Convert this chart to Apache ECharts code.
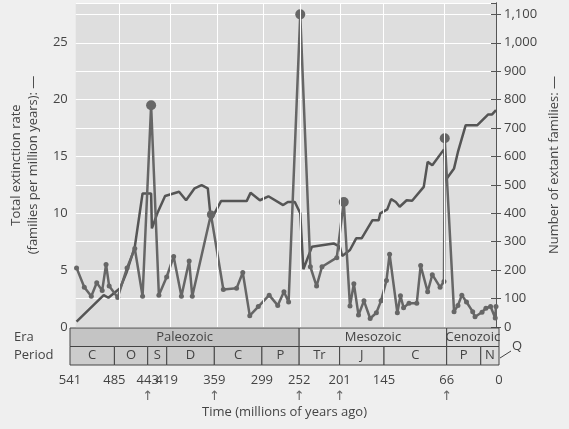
<!DOCTYPE html>
<html><head><meta charset="utf-8">
<script src="https://cdn.jsdelivr.net/npm/echarts@6/dist/echarts.min.js"></script>
<style>html,body{margin:0;padding:0;background:#efefef}#c{width:569px;height:429px}</style>
</head><body><div id="c"></div>
<script>
// Extinction rate (families per million years) at time (Ma)
const rateTime = [540,530,521,514,507,502,498,487,475,465,455,444,434,424,415,405,395,391,367,351,334,326,317,306,292,281,273,267,252,239,231,224,205,196,188,183,177,170,162,154,148,141,137,127,123,119,112,102,97,88,82,72,67,66,54,49,44,38,30,27,18,13,7,1,0];
const rateVals = [5.2,3.5,2.7,3.9,3.2,5.5,3.6,2.6,5.2,6.9,2.7,19.5,2.8,4.4,6.2,2.7,5.8,2.7,9.9,3.3,3.4,4.8,1.0,1.8,2.8,1.9,3.1,2.2,27.5,5.3,3.6,5.3,6.1,11.0,1.85,3.8,1.05,2.3,0.75,1.25,2.3,4.1,6.4,1.25,2.75,1.7,2.1,2.1,5.4,3.1,4.6,3.5,4.0,16.6,1.35,1.9,2.8,2.2,1.35,0.9,1.3,1.65,1.8,0.8,1.8];
const bigPeaks = [444,367,252,196,66];
// Number of extant families at time (Ma)
const famTime = [540,505,499,484,476,465,455,444,443,436,426,408,399,388,379,371,367,354,321,316,304,293,274,268,259,252,251,248,237,209,201,198,188,180,173,159,151,149,140,135,129,124,115,108,93,88,82,67,64,54,49,39,24,10,5,0];
const famVals = [19,112,103,136,189,282,470,470,347,400,461,476,446,488,499,488,376,443,443,472,446,460,429,440,440,400,405,203,282,294,282,250,271,312,312,376,376,400,414,450,440,423,446,444,493,581,569,625,520,558,616,710,710,748,748,763];
// Geologic time scale
const eras = [["Paleozoic",541,252],["Mesozoic",252,66],["Cenozoic",66,0]];
const periods = [["C",541,485],["O",485,443],["S",443,419],["D",419,359],["C",359,299],["P",299,252],["Tr",252,201],["J",201,145],["C",145,66],["P",66,23],["N",23,0]];
const timeTicks = [541,485,443,419,359,299,252,201,145,66,0];
const arrowTicks = [443,359,252,201,66];
const vLines = [485,419,359,299,252,201,145,66];

const chart = echarts.init(document.getElementById('c'));
const txt = '#444';
const ff = 'Open Sans, DejaVu Sans, sans-serif';
function boxes(rowIdx, list, paleoColor, otherColor){
  return {
    type:'custom', xAxisIndex:1, yAxisIndex:2, silent:true,
    data: list.map(d=>[d[1],d[2],rowIdx,d[0]]),
    renderItem:(params, api)=>{
      const p1 = api.coord([api.value(0), api.value(2)]);
      const p2 = api.coord([api.value(1), api.value(2)]);
      const h = api.size([0,1])[1];
      const paleo = api.value(0) > 252;
      return {type:'group', children:[
        {type:'rect', shape:{x:p1[0], y:p1[1]-h/2, width:p2[0]-p1[0], height:h},
         style:{fill: paleo?paleoColor:otherColor, stroke:'#444', lineWidth:1}},
        {type:'text', style:{x:(p1[0]+p2[0])/2, y:p1[1], text:list[params.dataIndex][0], fill:'#444', font:'13px '+ff, align:'center', verticalAlign:'middle'}}
      ]};
    }
  };
}
chart.setOption({
  backgroundColor:'#efefef',
  animation:false,
  grid:[{left:70,right:70,top:3,height:324,backgroundColor:'#dedede',show:true,borderWidth:0},
        {left:70,right:70,top:328,height:37,show:false}],
  xAxis:[
    {type:'value',gridIndex:0,inverse:true,min:0,max:541,axisLabel:{show:false},axisTick:{show:false},axisLine:{show:false},splitLine:{show:false}},
    {type:'value',gridIndex:1,inverse:true,min:0,max:541,splitLine:{show:false},axisLine:{show:false},
     axisTick:{show:false},
     axisLabel:{customValues:timeTicks,color:txt,fontFamily:ff,fontSize:13,margin:9,
       formatter:v=> arrowTicks.includes(v)? v+'\n{a|↑}' : v+'\n{a| }',
       rich:{a:{fontSize:13,color:'#666',lineHeight:18}}},
     name:'Time (millions of years ago)',nameLocation:'middle',nameGap:41,nameTextStyle:{color:txt,fontFamily:ff,fontSize:13}}
  ],
  yAxis:[
    {type:'value',gridIndex:0,min:0,max:28.5,interval:2.5,position:'left',
     axisLine:{show:true,lineStyle:{color:'#555'}},axisTick:{show:true,lineStyle:{color:'#555'}},
     splitLine:{show:false},
     axisLabel:{color:txt,fontFamily:ff,fontSize:13,formatter:v=> v%5===0? String(v):''},
     name:'Total extinction rate\n(families per million years): —',nameLocation:'middle',nameGap:30,nameRotate:90,
     nameTextStyle:{color:txt,fontFamily:ff,fontSize:13,lineHeight:17}},
    {type:'value',gridIndex:0,min:0,max:1140,interval:100,position:'right',
     axisLine:{show:true,lineStyle:{color:'#555'}},axisTick:{show:true,lineStyle:{color:'#555'}},
     splitLine:{show:true,lineStyle:{color:'#fff',width:1}},
     axisLabel:{color:txt,fontFamily:ff,fontSize:13,formatter:v=>v.toLocaleString('en-US')},
     name:'Number of extant families: —',nameLocation:'middle',nameGap:46,nameRotate:90,
     nameTextStyle:{color:txt,fontFamily:ff,fontSize:13}},
    {type:'category',gridIndex:1,data:['Period','Era'],axisLine:{show:false},axisTick:{show:false},
     axisLabel:{color:txt,fontFamily:ff,fontSize:13,align:'left',margin:56}}
  ],
  series:[
    {type:'line',xAxisIndex:0,yAxisIndex:1,data:famTime.map((t,i)=>[t,famVals[i]]),
     symbol:'none',lineStyle:{color:'#555',width:2.5},z:3,
     markLine:{silent:true,symbol:'none',label:{show:false},lineStyle:{color:'#fff',width:1,type:'solid'},
       data:vLines.map(v=>({xAxis:v}))}},
    {type:'line',xAxisIndex:0,yAxisIndex:0,data:rateTime.map((t,i)=>[t,rateVals[i]]),
     symbol:'circle',showAllSymbol:true,
     symbolSize:(v)=> bigPeaks.includes(v[0]) ? (v[0]===367?8:10) : 5,
     itemStyle:{color:'#666'},lineStyle:{color:'#666',width:2.5},z:4},
    boxes(1, eras, '#c4c4c4', '#dcdcdc'),
    boxes(0, periods, '#cccccc', '#dcdcdc')
  ],
  graphic:[
    {type:'line',shape:{x1:500,y1:358,x2:511,y2:351},style:{stroke:'#444',lineWidth:1}},
    {type:'text',left:512,top:340,style:{text:'Q',fill:txt,font:'13px '+ff}}
  ]
});
</script></body></html>
